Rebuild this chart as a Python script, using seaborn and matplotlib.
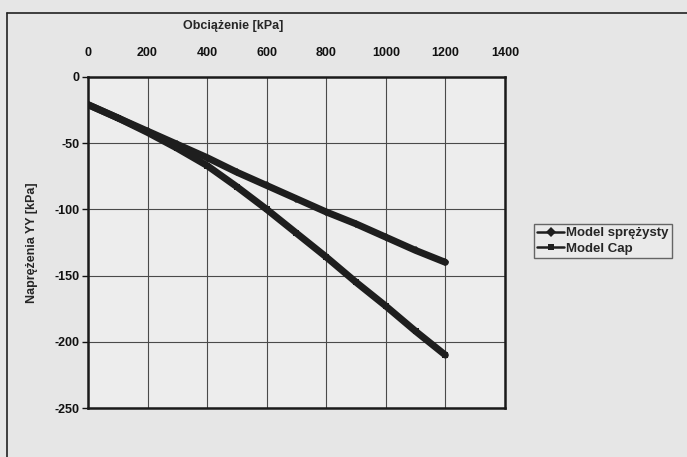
import pandas as pd
import matplotlib.pyplot as plt
import seaborn as sns

# load [kPa]
obciazenie = [0, 100, 200, 300, 400, 500, 600, 700, 800, 900, 1000, 1100, 1200]
# stress YY [kPa]
model_sprezysty = [-21, -31, -41, -51, -61, -72, -82, -92, -102, -111, -121, -131, -140]
model_cap = [-21, -31, -42, -54, -67, -83, -100, -118, -136, -155, -173, -192, -210]
series_names = ['Model sprężysty', 'Model Cap']
x_ticks = [0, 200, 400, 600, 800, 1000, 1200, 1400]
y_ticks = [0, -50, -100, -150, -200, -250]

df = pd.DataFrame({
    'x': obciazenie * 2,
    'y': model_sprezysty + model_cap,
    'model': [series_names[0]] * len(obciazenie) + [series_names[1]] * len(obciazenie),
})

sns.set_style('white')
plt.rcParams['font.family'] = ['Liberation Sans', 'DejaVu Sans']
plt.rcParams['font.weight'] = 'bold'
plt.rcParams['axes.unicode_minus'] = False

fig = plt.figure(figsize=(6.87, 4.57), dpi=100, facecolor='#e6e6e6')
ax = fig.add_axes([0.128, 0.107, 0.607, 0.725])
ax.set_facecolor('#ededed')

sns.lineplot(data=df, x='x', y='y', hue='model', style='model',
             palette=['#1e1e1e', '#1e1e1e'], dashes=False,
             markers={series_names[0]: 'D', series_names[1]: 's'},
             markersize=4, linewidth=5, markeredgewidth=0, ax=ax)

ax.set_xlim(0, 1400)
ax.set_ylim(-250, 0)
ax.set_xticks(x_ticks)
ax.set_yticks(y_ticks)
ax.xaxis.tick_top()
ax.xaxis.set_label_position('top')
ax.tick_params(axis='x', length=0, labelsize=9, pad=13, colors='#111')
ax.tick_params(axis='y', length=4, width=1, direction='out', labelsize=9, colors='#111', left=True, pad=2)
ax.set_xlabel('Obciążenie [kPa]', fontsize=9, fontweight='bold')
ax.xaxis.set_label_coords(0.348, 1.145)
ax.set_ylabel('Naprężenia YY [kPa]', fontsize=9, fontweight='bold', labelpad=12)
ax.grid(True, color='#4a4a4a', linewidth=0.8)
for s in ax.spines.values():
    s.set_color('#1a1a1a')
    s.set_linewidth(1.8)

leg = ax.legend(title=None, loc='center left', bbox_to_anchor=(1.07, 0.505),
                frameon=True, fancybox=False, fontsize=9.5, handlelength=2.0,
                handletextpad=0.15, borderpad=0.25, labelspacing=0.25,
                borderaxespad=0)
leg.get_frame().set_edgecolor('#444')
leg.get_frame().set_facecolor('#ececec')
leg.get_frame().set_linewidth(1)
for h in leg.legend_handles:
    h.set_linewidth(1.8)
    h.set_markersize(5)

# chart area frame
fig.add_artist(plt.Line2D([7 / 687, 7 / 687], [0, 1 - 13 / 457], color='#222', linewidth=1.2))
fig.add_artist(plt.Line2D([7 / 687, 1], [1 - 13 / 457, 1 - 13 / 457], color='#222', linewidth=1.2))

plt.savefig('out.png', dpi=100, facecolor=fig.get_facecolor())
